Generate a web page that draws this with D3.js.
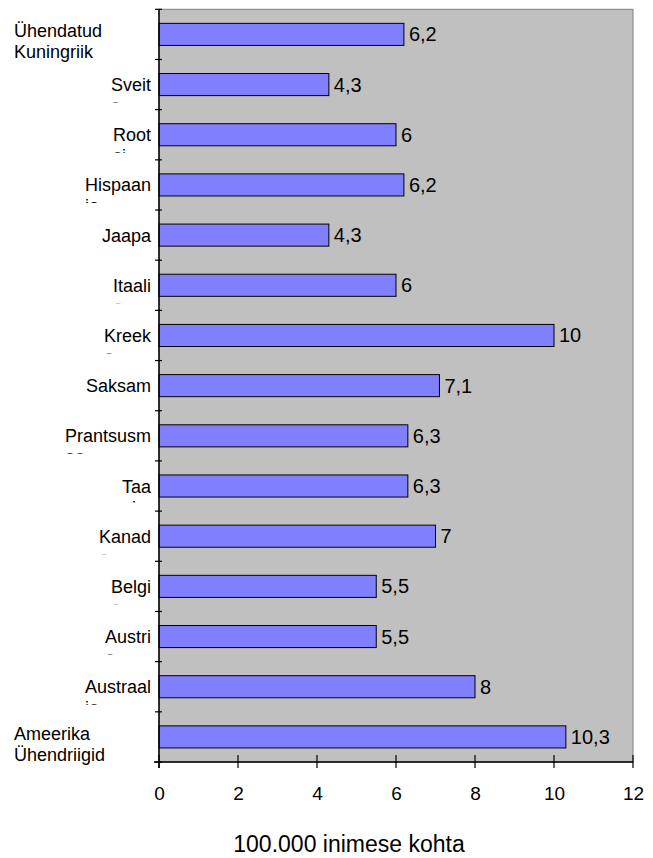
<!DOCTYPE html>
<html>
<head>
<meta charset="utf-8">
<script src="https://cdn.jsdelivr.net/npm/d3@7"></script>
<style>
  html, body { margin: 0; padding: 0; background: #fff; }
  svg { display: block; font-family: "Liberation Sans", Arial, sans-serif; }
</style>
</head>
<body>
<svg id="chart" width="653" height="858"></svg>
<script>
// ---- data ----
const categories = ["Ühendatud Kuningriik", "Šveits", "Rootsi", "Hispaania", "Jaapan", "Itaalia", "Kreeka",
  "Saksamaa", "Prantsusmaa", "Taani", "Kanada", "Belgia", "Austria", "Austraalia", "Ameerika Ühendriigid"];
const labelLines = [["Ühendatud", "Kuningriik"], ["Sveit", "s"], ["Root", "si"], ["Hispaan", "ia"], ["Jaapa", "n"],
  ["Itaali", "a"], ["Kreek", "a"], ["Saksam", ""], ["Prantsusm", "aa"], ["Taa", "ni"], ["Kanad", "a"],
  ["Belgi", "a"], ["Austri", "a"], ["Austraal", "ia"], ["Ameerika", "Ühendriigid"]];
const values = [6.2, 4.3, 6, 6.2, 4.3, 6, 10, 7.1, 6.3, 6.3, 7, 5.5, 5.5, 8, 10.3];
const xTicks = [0, 2, 4, 6, 8, 10, 12];
const xTitle = "100.000 inimese kohta";

// ---- layout ----
const plotLeft = 159, plotRight = 633, plotTop = 9.3, plotBottom = 762;
const svg = d3.select("#chart");

const x = d3.scaleLinear().domain([0, 12]).range([plotLeft, plotRight]);
const y = d3.scaleBand().domain(categories).range([plotTop, plotBottom]).paddingInner(0.56).paddingOuter(0.28);
const step = y.step();
const center = c => y(c) + y.bandwidth() / 2;

// plot background
svg.append("rect").attr("x", plotLeft).attr("y", plotTop).attr("width", plotRight - plotLeft).attr("height", plotBottom - plotTop)
  .attr("fill", "#C0C0C0").attr("stroke", "#808080").attr("stroke-width", 1);

// bars
svg.append("g").selectAll("rect").data(categories).join("rect")
  .attr("x", x(0)).attr("y", c => y(c)).attr("height", y.bandwidth())
  .attr("width", (c, i) => x(values[i]) - x(0))
  .attr("fill", "#8080FF").attr("stroke", "#000").attr("stroke-width", 1);

// value labels
svg.append("g").selectAll("text").data(categories).join("text")
  .attr("x", (c, i) => x(values[i]) + 5)
  .attr("y", c => center(c) + 7)
  .attr("font-size", 20).attr("fill", "#000")
  .text((c, i) => String(values[i]).replace(".", ","));

// y axis line + ticks at band boundaries
svg.append("line").attr("x1", plotLeft).attr("x2", plotLeft).attr("y1", plotTop).attr("y2", plotBottom + 6)
  .attr("stroke", "#000").attr("stroke-width", 1.5);
const boundaries = categories.map(c => y(c) - (step - y.bandwidth()) / 2).concat([plotBottom]);
svg.append("g").selectAll("line").data(boundaries).join("line")
  .attr("x1", plotLeft - 4).attr("x2", plotLeft + 3).attr("y1", d => d).attr("y2", d => d)
  .attr("stroke", "#000").attr("stroke-width", 1.2);

// x axis
const xAxis = d3.axisBottom(x).tickValues(xTicks).tickSize(0).tickFormat(d3.format("d"));
const gx = svg.append("g").attr("transform", `translate(0,${plotBottom})`).call(xAxis);
gx.select(".domain").remove();
gx.selectAll("text").attr("font-size", 19).attr("fill", "#000").attr("dy", null).attr("y", 38)
  .attr("font-family", "'Liberation Sans', Arial, sans-serif");
svg.append("line").attr("x1", plotLeft - 5).attr("x2", plotRight).attr("y1", plotBottom).attr("y2", plotBottom)
  .attr("stroke", "#000").attr("stroke-width", 1.5);
svg.append("g").selectAll("line").data(xTicks).join("line")
  .attr("x1", d => x(d)).attr("x2", d => x(d)).attr("y1", plotBottom - 7).attr("y2", plotBottom + 6)
  .attr("stroke", "#000").attr("stroke-width", 1.2);

// category labels (wrapped, second line clipped)
const defs = svg.append("defs");
const lab = svg.append("g").attr("font-size", 18).attr("fill", "#000");
categories.forEach((c, i) => {
  const cy = center(c);
  const lines = labelLines[i];
  const twoWord = c.includes(" ");
  const clipBottom = twoWord ? cy + 28 : cy + 18;
  defs.append("clipPath").attr("id", "clip" + i)
    .append("rect").attr("x", 0).attr("y", cy - 30).attr("width", 157).attr("height", clipBottom - (cy - 30));
  const g = lab.append("g").attr("clip-path", `url(#clip${i})`);
  const b1 = twoWord ? cy + 3 : cy + 6.5;
  const t1 = g.append("text").attr("y", b1).text(lines[0]);
  const t2 = g.append("text").attr("y", b1 + 21).text(lines[1]);
  let lx;
  if (twoWord) {
    lx = 14;
  } else {
    lx = 151 - t1.node().getComputedTextLength();
  }
  t1.attr("x", lx); t2.attr("x", lx);
});

// axis title
svg.append("text").attr("x", 349).attr("y", 852).attr("text-anchor", "middle")
  .attr("font-size", 23).attr("fill", "#000").text(xTitle);
</script>
</body>
</html>
